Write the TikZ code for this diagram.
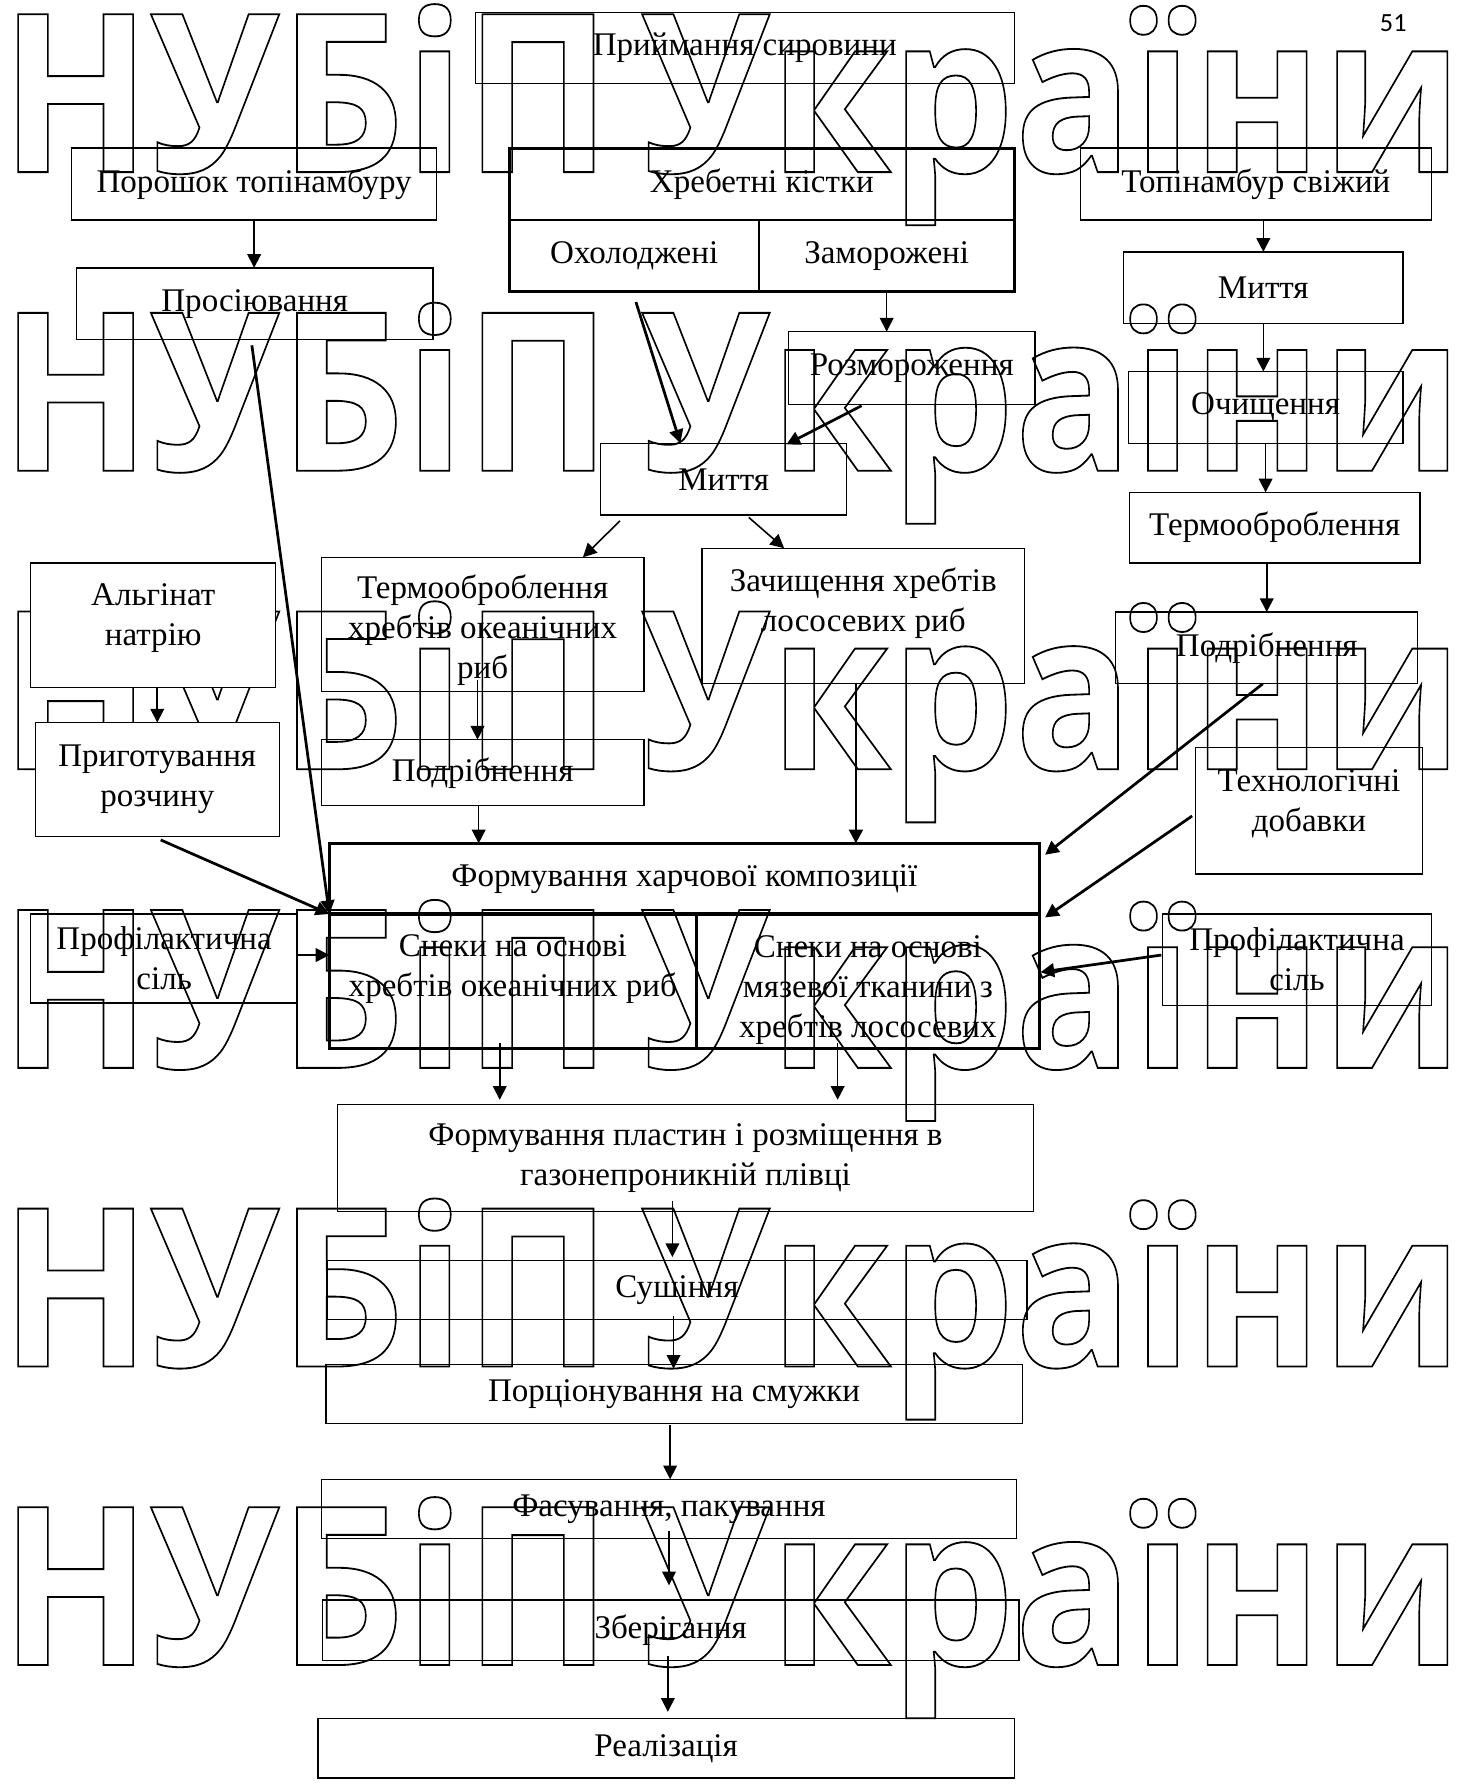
\documentclass[tikz,border=0pt]{standalone}
\usepackage{fontspec}
\setmainfont{Liberation Serif}
\newfontfamily\wmfont{Open Sans}
\newfontfamily\pagefont{Carlito}
\usetikzlibrary{calc,positioning,arrows.meta}
% outline text for the watermark rows
\newcommand{\outlineon}{\special{pdf:literal direct 1 Tr 0.8 w}}
\newcommand{\outlineoff}{\special{pdf:literal direct 0 Tr}}
\tikzset{
    wh/.style 2 args={minimum width=#1*0.5pt, minimum height=#2*0.5pt},
    box/.style={draw, line width=0.6pt, inner sep=0pt, outer sep=0pt, align=center},
    thickbox/.style={box, line width=1.2pt},
    txt/.style={inner sep=0pt, align=center},
    arr/.style={-{Triangle[length=6pt,width=6pt]}, line width=0.7pt},
    thickarr/.style={arr, line width=1.2pt},
    wmark/.style={font=\wmfont\bfseries\fontsize{97}{97}\selectfont, inner sep=0pt, anchor=base west}
}

\begin{document}
\begin{tikzpicture}[x=0.5pt, y=-0.5pt, font=\fontsize{14.5}{17.5}\selectfont]
    \useasboundingbox (0,0) rectangle (1285,1568);

    % --- Watermark rows ---
    \foreach \yb [count=\i] in {151,413,675,937,1199,1461} {
        \node[wmark] (wmA\i) at (0,\yb) {\resizebox{268pt}{\height}{\outlineon НУБіП\outlineoff}};
        \node[wmark] (wmB\i) at (563,\yb) {\resizebox{360pt}{\height}{\outlineon України\outlineoff}};
    }
    \node[font=\pagefont\fontsize{11.5}{12}\selectfont, inner sep=0pt] (pagenum) at (1222.5,20.5) {51};

    % --- Raw materials ---
    \node[box, wh={473}{62}] (priym) at (653.5,42) {Приймання сировини};
    \node[box, wh={320}{63}] (poroshok) at (223,161.5) {Порошок топінамбуру};
    \node[thickbox, wh={443}{63}] (khrebet) at (668.5,161.5) {Хребетні кістки};
    \node[thickbox, wh={219}{63}] (okholod) at (556.5,224.5) {Охолоджені};
    \node[thickbox, wh={224}{63}] (zamor) at (778,224.5) {Заморожені};
    \node[box, wh={308}{63}] (topfresh) at (1102,161.5) {Топінамбур свіжий};

    % --- Preparation ---
    \node[box, wh={313}{63}] (prosiy) at (223.5,266.5) {Просіювання};
    \node[box, wh={245}{63}] (myttyaR) at (1108.5,252.5) {Миття};
    \node[box, wh={216}{64}] (rozmor) at (800,323) {Розмороження};
    \node[box, wh={241}{63}] (ochysh) at (1110.5,357.5) {Очищення};
    \node[box, wh={216}{63}] (myttyaC) at (635,420.5) {Миття};
    \node[box, wh={255}{62}] (termoR) at (1118.5,463) {Термооброблення};
    \node[box, fill=white, wh={215}{109}] (alginat) at (134.5,548.5) {};
    \node[txt] (alginattxt) at ($(alginat)+(0,-6.5)$) {Альгінат\\натрію};
    \node[box, wh={283}{118}] (termoC) at (423.5,548) {};
    \node[txt] (termoCtxt) at ($(termoC)+(0,5)$) {Термооброблення\\хребтів океанічних\\риб};
    \node[box, wh={283}{119}] (zachysh) at (757.5,540.5) {};
    \node[txt] (zachyshtxt) at ($(zachysh)+(0,-11.5)$) {Зачищення хребтів\\лососевих риб};
    \node[box, wh={265}{63}] (podribR) at (1111.5,568.5) {Подрібнення};
    \node[box, fill=white, wh={214}{100}] (pryhot) at (138,684) {Приготування\\розчину};
    \node[box, wh={283}{58}] (podribC) at (423.5,678) {Подрібнення};
    \node[box, wh={199}{111}] (tekhnol) at (1148.5,711.5) {};
    \node[txt] (tekhnoltxt) at ($(tekhnol)+(0,-6.5)$) {Технологічні\\добавки};

    % --- Composition and snacks ---
    \node[thickbox, wh={623}{62}] (formkomp) at (600.5,771) {Формування харчової композиції};
    \draw[line width=2pt] (formkomp.south west) -- (formkomp.south east);
    \node[box, wh={234}{78}] (profL) at (144,841) {Профілактична\\сіль};
    \node[thickbox, wh={322}{118}] (snekyO) at (450,861) {};
    \node[txt] (snekyOtxt) at ($(snekyO)+(0,-11)$) {Снеки на основі\\хребтів океанічних риб};
    \node[thickbox, wh={301}{118}] (snekyL) at (761.5,861) {};
    \node[txt] (snekyLtxt) at ($(snekyL)+(0,8)$) {Снеки на основі\\мязевої тканини з\\хребтів лососевих};
    \node[box, wh={236}{80}] (profR) at (1138,842) {Профілактична\\сіль};

    % --- Final stages ---
    \node[box, wh={611}{94}] (formplast) at (601.5,1016) {Формування пластин і розміщення в\\газонепроникній плівці};
    \node[box, wh={614}{52}] (sushinnya) at (594,1132) {Сушіння};
    \node[box, wh={611}{52}] (portsion) at (591.5,1223) {Порціонування на смужки};
    \node[box, wh={610}{52}] (fasuv) at (587,1324) {Фасування, пакування};
    \node[box, wh={611}{53}] (zberig) at (588.5,1430.5) {Зберігання};
    \node[box, wh={611}{52}] (realiz) at (584.5,1534) {Реалізація};

    % Left column arrows
    \draw[arr] (poroshok.south) -- (poroshok.south |- prosiy.north);
    \draw[thickarr] ($(prosiy.south)+(-2.5,5)$) -- (formkomp.south west);
    \draw[arr] (pryhot.north |- alginat.south) -- (pryhot.north);
    \draw[thickarr] ($(pryhot.south)+(3,3)$) -- (formkomp.south west);
    \draw[arr] ($(profL.east)+(0,-3)$) -- ($(profL.east -| snekyO.west)+(0,-3)$);

    % Centre column arrows
    \draw[thickarr] ($(okholod.south)+(1.5,9)$) -- ($(myttyaC.north)+(-38,0)$);
    \draw[arr] (zamor.south) -- (zamor.south |- rozmor.north);
    \draw[thickarr] ($(rozmor.south)+(-44,1)$) -- ($(myttyaC.north east)+(-53,1)$);
    \draw[arr] ($(myttyaC.south west)+(17,5)$) -- ($(termoC.north)+(88,0)$);
    \draw[arr] ($(myttyaC.south)+(22,2)$) -- ($(zachysh.north west)+(72,0)$);
    \draw[arr] ($(termoC.south)+(-4.5,-10)$) -- ($(podribC.north)+(-4.5,0)$);
    \draw[arr] ($(podribC.south)+(-3.5,0)$) -- ($(podribC.south |- formkomp.north)+(-3.5,0)$);
    \draw[thickarr] ($(zachysh.south)+(-6.5,-1)$) -- ($(zachysh.south |- formkomp.north)+(-6.5,0)$);

    % Right column arrows
    \draw[arr] (myttyaR.north |- topfresh.south) -- (myttyaR.north);
    \draw[arr] (myttyaR.south) -- (myttyaR.south |- ochysh.north);
    \draw[arr] (ochysh.south) -- (ochysh.south |- termoR.north);
    \draw[arr] (podribR.north |- termoR.south) -- (podribR.north);
    \draw[thickarr] ($(podribR.south)+(-3.5,0)$) -- ($(formkomp.north east)+(5,10)$);
    \draw[thickarr] ($(tekhnol.west)+(-3,4.5)$) -- ($(formkomp.south east)+(5,3)$);
    \draw[thickarr] ($(profR.west)+(-1,-4)$) -- ($(snekyL.east)+(1,-8)$);

    % Bottom chain arrows
    \draw[arr] ($(snekyO.south)+(-11.5,-5)$) -- ($(snekyO.south |- formplast.north)+(-11.5,-4)$);
    \draw[arr] ($(snekyL.south)+(-26.5,-5)$) -- ($(snekyL.south |- formplast.north)+(-26.5,-4)$);
    \draw[arr] ($(formplast.south)+(-11.5,-9)$) -- ($(formplast.south |- sushinnya.north)+(-11.5,-3)$);
    \draw[arr] ($(sushinnya.south)+(-3,-3)$) -- ($(sushinnya.south |- portsion.north)+(-3,4)$);
    \draw[arr] ($(portsion.south)+(-3.5,1)$) -- ($(portsion.south |- fasuv.north)+(-3.5,0)$);
    \draw[arr] ($(fasuv.south)+(0,-7)$) -- ($(fasuv.south |- zberig.north)+(0,-13)$);
    \draw[arr] ($(zberig.south)+(-2.5,-4)$) -- ($(zberig.south |- realiz.north)+(-2.5,-6)$);
\end{tikzpicture}
\end{document}
